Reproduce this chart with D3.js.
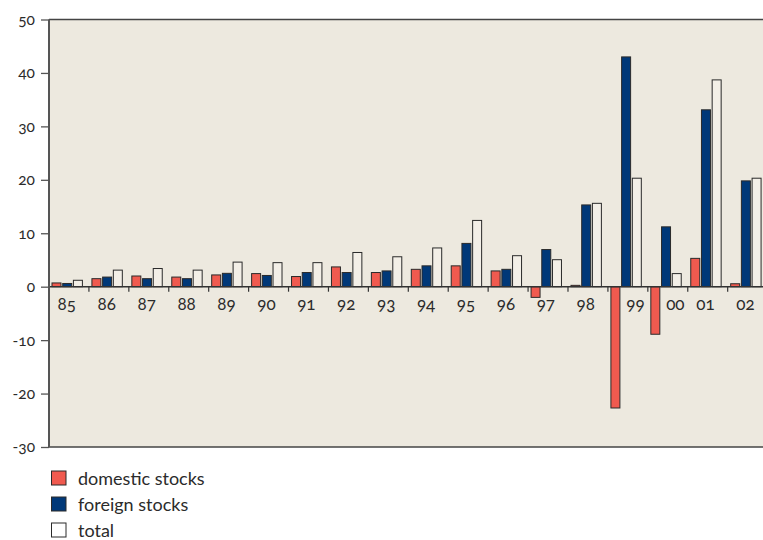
<!DOCTYPE html>
<html><head><meta charset="utf-8">
<script src="https://cdn.jsdelivr.net/npm/d3@7"></script>
<style>
body{margin:0;background:#fff;}
text{font-family:Lato,"Open Sans",sans-serif;font-variant-numeric:oldstyle-nums;fill:#2b2b2b;}
</style></head><body>
<svg id="c" width="763" height="540"></svg>
<script>
const years = ["85","86","87","88","89","90","91","92","93","94","95","96","97","98","99","00","01","02"];
const domestic = [0.7,1.5,2.0,1.8,2.2,2.45,1.9,3.7,2.65,3.25,3.9,2.95,-2.0,0.25,-22.7,-8.9,5.3,0.55];
const foreign  = [0.6,1.8,1.5,1.5,2.5,2.1,2.65,2.65,2.95,3.9,8.1,3.25,6.95,15.3,43.0,11.2,33.1,19.8];
const total    = [1.2,3.1,3.4,3.1,4.6,4.5,4.5,6.4,5.6,7.25,12.4,5.8,5.05,15.6,20.3,2.45,38.7,20.3];
const seriesNames = ["domestic stocks","foreign stocks","total"];
const yTicks = [-30,-20,-10,0,10,20,30,40,50];

const colors = {"domestic stocks":"#f05a4f","foreign stocks":"#003878","total":"#f3efe7"};
const seriesData = {"domestic stocks":domestic,"foreign stocks":foreign,"total":total};

const svg = d3.select("#c");
const L = 49, R = 767.6, T = 19.5, B = 447;
const y = d3.scaleLinear().domain([-30,50]).range([B,T]);
const x0 = d3.scaleBand().domain(years).range([L,R]);
const x1 = d3.scaleBand().domain(seriesNames).range([3,33.4]).paddingInner(0.16);

svg.append("rect").attr("x",L).attr("y",T).attr("width",R-L+5).attr("height",B-T).attr("fill","#ede9df");
svg.append("line").attr("x1",L).attr("x2",R+5).attr("y1",T).attr("y2",T).attr("stroke","#444").attr("stroke-width",1.5);
svg.append("line").attr("x1",L).attr("x2",R+5).attr("y1",B).attr("y2",B).attr("stroke","#444").attr("stroke-width",1.5);

const groups = svg.append("g").selectAll("g").data(years).join("g")
  .attr("transform",d=>`translate(${x0(d)},0)`);
groups.selectAll("rect").data((d,i)=>seriesNames.map(s=>({s,v:seriesData[s][i]}))).join("rect")
  .attr("x",d=>x1(d.s)).attr("width",x1.bandwidth())
  .attr("y",d=>y(Math.max(0,d.v))).attr("height",d=>Math.abs(y(d.v)-y(0)))
  .attr("fill",d=>colors[d.s]).attr("stroke","#2a2a2a").attr("stroke-width",1);

// zero line
svg.append("line").attr("x1",L).attr("x2",R+5).attr("y1",y(0)).attr("y2",y(0)).attr("stroke","#333").attr("stroke-width",1.5);
// x ticks
svg.append("g").selectAll("line").data(years.slice(1)).join("line")
  .attr("x1",d=>x0(d)).attr("x2",d=>x0(d)).attr("y1",y(0)).attr("y2",y(0)+5).attr("stroke","#333").attr("stroke-width",1.2);
// labels: shifted right of a deep negative domestic bar so they stay readable
svg.append("g").selectAll("text").data(years).join("text")
  .attr("x",(d,i)=>x0(d)+(domestic[i]< -5 ? 27.5 : 17.8)).attr("y",y(0)+23).attr("text-anchor","middle").attr("font-size",17).text(d=>d);

// y axis
const yAxis = d3.axisLeft(y).tickValues(yTicks).tickSize(8).tickPadding(6).tickFormat(d=>d<0?"-"+Math.abs(d):d);
const ga = svg.append("g").attr("transform",`translate(${L},0)`).call(yAxis);
ga.select(".domain").attr("stroke","#555").attr("stroke-width",2).attr("d",`M0,${T}V${B}`);
ga.selectAll(".tick line").attr("stroke","#555").attr("stroke-width",1.3);
ga.selectAll(".tick text").attr("font-size",15.5).attr("font-family","Lato,'Open Sans',sans-serif").attr("fill","#2b2b2b");

// legend
const lg = svg.append("g").selectAll("g").data(seriesNames).join("g")
  .attr("transform",(d,i)=>`translate(51.5,${471+i*26})`);
lg.append("rect").attr("width",14.5).attr("height",14).attr("fill",d=>colors[d]==="#f3efe7"?"#fff":colors[d]).attr("stroke","#2a2a2a").attr("stroke-width",1);
lg.append("text").attr("x",26.5).attr("y",13.5).attr("font-size",18).text(d=>d);
</script>
</body></html>
